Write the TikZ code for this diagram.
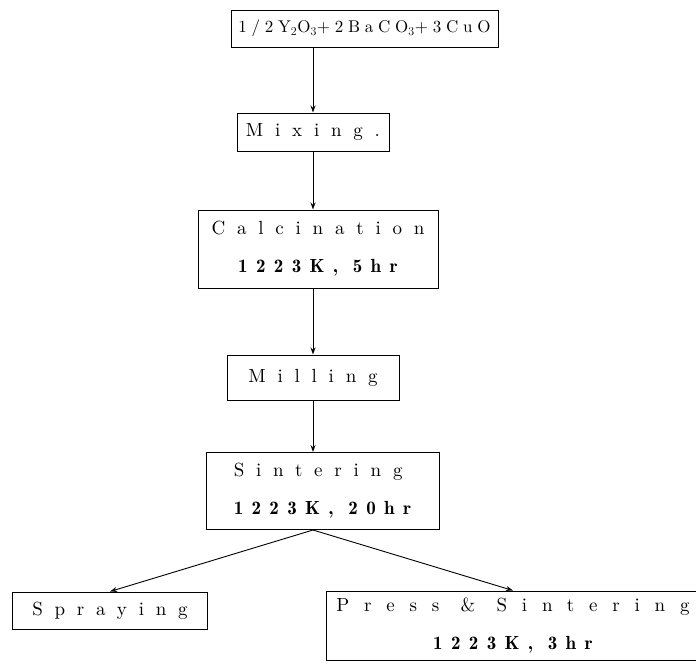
\documentclass[tikz,border=0pt]{standalone}
\usepackage{fontspec}
\usetikzlibrary{arrows.meta}

\newfontfamily\wordfont[LetterSpace=62]{lmroman10-regular.otf}
\newfontfamily\widefont[LetterSpace=78]{lmroman10-regular.otf}
\newfontfamily\numfont[LetterSpace=44]{lmromandemi10-regular.otf}
\newfontfamily\formfont[LetterSpace=28]{lmroman10-regular.otf}

\tikzstyle{bx} = [draw = black, line width = 1pt, inner sep = 0pt, align = center, font = \fontsize{19}{38}\selectfont\wordfont]
\tikzstyle{ar} = [line width = 0.9pt, -{Stealth[open, length = 7pt, width = 5pt]}]

\begin{document}
\begin{tikzpicture}[x = 1pt, y = -1pt]
        \useasboundingbox (0, 0) rectangle (696, 664);

        \node (raw) [bx, minimum width = 267pt, minimum height = 37pt, font = \fontsize{17}{38}\selectfont\formfont] at (364.5, 28.5) {1/2Y$_2$O$_3$+2BaCO$_3$+3CuO};
        \node (mix) [bx, minimum width = 152pt, minimum height = 38pt] at (313, 132) {Mixing.};
        \node (calc) [bx, minimum width = 240pt, minimum height = 78pt] at (318, 249) {Calcination\\\numfont 1223K, 5hr};
        \node (mill) [bx, minimum width = 172pt, minimum height = 45pt] at (313, 377.5) {Milling};
        \node (sint) [bx, align = left, minimum width = 233pt, minimum height = 77pt] at (322.5, 491) {Sintering\\\numfont 1223K, 20hr};
        \node (spray) [bx, minimum width = 195pt, minimum height = 37pt] at (110, 610.5) {Spraying};
        \node (press) [bx, minimum width = 374pt, minimum height = 69pt] at (513, 625.5) {\widefont Press \& Sintering\\\numfont 1223K, 3hr};

        \draw [ar] (raw.south -| mix.north) -- (mix.north);
        \draw [ar] (mix.south) -- (mix.south |- calc.north);
        \draw [ar] (calc.south -| mill.north) -- (mill.north);
        \draw [ar] (mill.south) -- (mill.south |- sint.north);
        \draw [ar] (sint.south -| mill.south) -- (spray.north);
        \draw [ar] (sint.south -| mill.south) -- (press.north);
    \end{tikzpicture}
\end{document}
